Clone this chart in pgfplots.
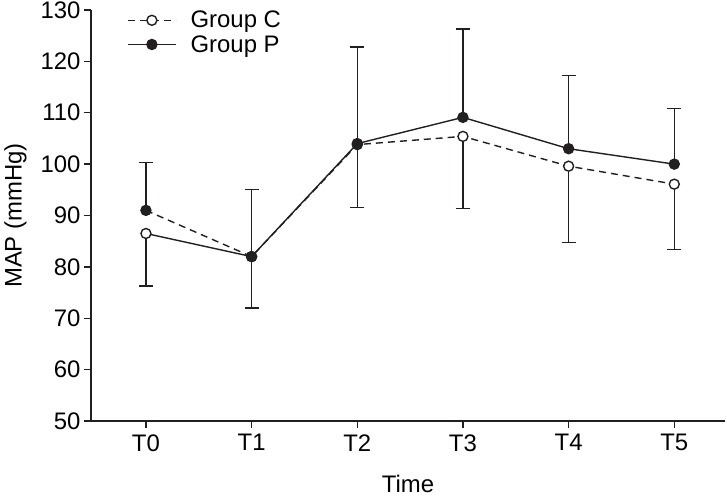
\documentclass[border=0pt]{standalone}
\usepackage{fontspec}
\setmainfont{Liberation Sans}
\usepackage{pgfplots}
\pgfplotsset{compat=1.18}
\definecolor{ink}{HTML}{231F20}

\begin{document}
\begin{tikzpicture}
\begin{axis}[
    name=ax,
    scale only axis,
    width=634bp, height=411bp,
    xmin=-0.52, xmax=5.48,
    ymin=50, ymax=130,
    ytick={50,60,...,130},
    yticklabels={50,60,70,80,90,100,110,120,130},
    xtick={0,...,5},
    xticklabels={T0,T1,T2,T3,T4,T5},
    axis x line*=bottom,
    axis y line*=left,
    axis line style={ink, line width=1.4bp},
    tick style={ink, line width=1.4bp},
    tick align=outside,
    major tick length=7bp,
    font=\fontsize{24}{28}\selectfont,
    xticklabel style={yshift=-3bp},
    xlabel={Time},
    xlabel style={at={(axis description cs:0.5,0)}, anchor=base, yshift=-71bp},
    ylabel={MAP (mmHg)},
    ylabel style={at={(axis description cs:0,0.5)}, anchor=north, inner sep=0pt, yshift=87bp},
    legend style={draw=none, fill=none, at={(rel axis cs:0,1)}, anchor=north west,
        xshift=36bp, yshift=1bp, inner sep=0pt, row sep=2bp,
        nodes={inner sep=2bp},
        font=\fontsize{24}{28}\selectfont},
    legend cell align=left,
    legend image code/.code={
        \draw[#1, mark repeat=2, mark phase=2] plot coordinates {(0bp,0bp)(24bp,0bp)(48bp,0bp)};
        \path (60bp,0bp);
    },
]
% connecting lines, as drawn in the figure
\addplot[ink, line width=1.4bp, dash pattern=on 7bp off 5bp, forget plot]
    coordinates {(0,91.0)(1,82.0)(2,103.8)(3,105.4)(4,99.6)(5,96.1)};
\addplot[ink, line width=1.4bp, forget plot]
    coordinates {(0,86.5)(1,82.0)(2,104.0)(3,109.1)(4,103.0)(5,100.0)};

% Group C: open circles, error bars downward
\addplot[ink, only marks, mark=*, mark size=5bp,
    mark options={fill=white, line width=1.4bp}, forget plot,
    error bars/.cd, y dir=minus, y explicit,
    error bar style={ink, line width=1.4bp},
    error mark options={rotate=90, ink, mark size=7bp, line width=1.4bp}]
    coordinates {
    (0,86.5) -= (0,10.2)
    (1,82.0) -= (0,10.0)
    (2,103.8) -= (0,12.2)
    (3,105.4) -= (0,14.0)
    (4,99.6) -= (0,14.9)
    (5,96.1) -= (0,12.7)
    };

% Group P: filled circles, error bars upward
\addplot[ink, only marks, mark=*, mark size=5bp,
    mark options={fill=ink, line width=1.4bp}, forget plot,
    error bars/.cd, y dir=plus, y explicit,
    error bar style={ink, line width=1.4bp},
    error mark options={rotate=90, ink, mark size=7bp, line width=1.4bp}]
    coordinates {
    (0,91.0) += (0,9.3)
    (1,82.0) += (0,13.1)
    (2,104.0) += (0,18.8)
    (3,109.1) += (0,17.2)
    (4,103.0) += (0,14.2)
    (5,100.0) += (0,10.8)
    };

\addlegendimage{ink, line width=1.4bp, dash pattern=on 7bp off 5bp, mark=*, mark size=5bp,
    mark options={solid, fill=white}}
\addlegendentry{Group C}
\addlegendimage{ink, line width=1.4bp, mark=*, mark size=5bp, mark options={fill=ink}}
\addlegendentry{Group P}
\end{axis}
\pgfresetboundingbox
\path (ax.south west) ++(-91bp,-75bp) rectangle ++(727bp,496bp);
\end{tikzpicture}
\end{document}
